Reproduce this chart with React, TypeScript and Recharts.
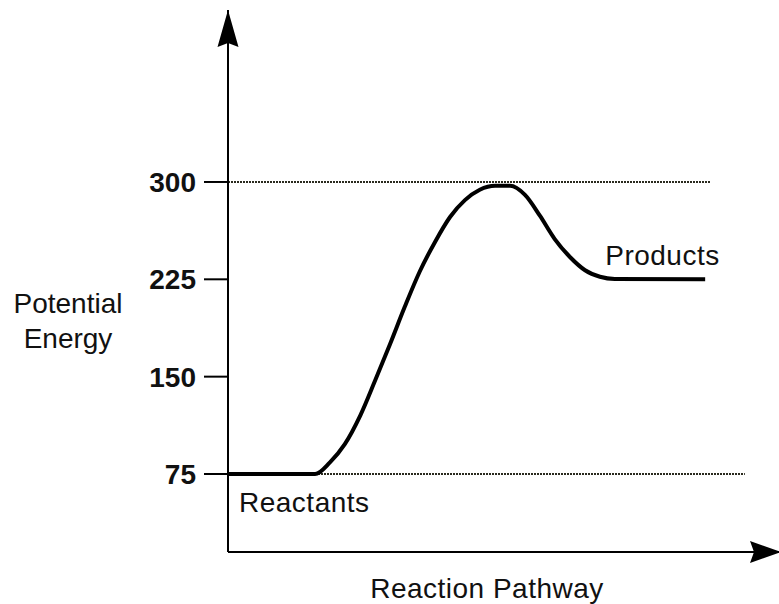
import { LineChart, Line, XAxis, YAxis, ReferenceLine, ReferenceDot } from 'recharts';

const FONT = '"Liberation Sans", Arial, sans-serif';

// position along the reaction pathway (0..100) and potential energy
const pathway = [0, 15.8, 18.5, 21.2, 24.0, 26.7, 29.4, 32.1, 34.8, 37.6, 40.3, 43.0, 45.7, 48.5, 51.2, 53.9, 56.6, 59.3, 62.1, 64.8, 67.5, 70.2, 86.6];
const energy = [75, 75, 84, 98, 120, 147, 175, 204, 231, 254, 273, 286, 294, 297, 297, 290, 274, 256, 242, 232, 227, 225.3, 225];

const energyTicks = [75, 150, 225, 300];
const energyDomain = [14.9, 432.5];
const pathwayDomain = [0, 100];

const transitionLevel = 300;
const transitionEnd = 87.5;
const reactantLevel = 75;
const reactantEnd = 93.8;
const productStart = 68.1;
const productLevel = 225;

const data = pathway.map((x, i) => ({ x, energy: energy[i] }));

const UpArrow = (props: any) => {
  const { cx, cy } = props;
  return (
    <path
      d={`M${cx},${cy} L${cx + 10.5},${cy + 37} L${cx},${cy + 33} L${cx - 10.5},${cy + 37} Z`}
      fill="#000"
    />
  );
};

const RightArrow = (props: any) => {
  const { cx, cy } = props;
  return (
    <path
      d={`M${cx + 2},${cy} L${cx - 29},${cy - 11} L${cx - 25},${cy} L${cx - 29},${cy + 11} Z`}
      fill="#000"
    />
  );
};

const EnergyLabel = (props: any) => {
  const { viewBox } = props;
  const cx = viewBox.x + 68;
  return (
    <text fontFamily={FONT} fontSize={28} fill="#111" textAnchor="middle">
      <tspan x={cx} y={313}>Potential</tspan>
      <tspan x={cx} y={348}>Energy</tspan>
    </text>
  );
};

const PathwayLabel = (props: any) => {
  const { viewBox } = props;
  return (
    <text
      x={viewBox.x + 259}
      y={viewBox.y + 46}
      fontFamily={FONT}
      fontSize={28}
      letterSpacing={0.5}
      fill="#111"
      textAnchor="middle"
    >
      Reaction Pathway
    </text>
  );
};

export default function App() {
  return (
    <div style={{ position: 'absolute', top: 0, left: 0, width: 779, height: 604, background: '#fff' }}>
      <LineChart width={779} height={604} data={data} margin={{ top: 10, right: 0, bottom: 0, left: 0 }}>
        <XAxis
          type="number"
          dataKey="x"
          domain={pathwayDomain}
          allowDataOverflow
          tick={false}
          tickLine={false}
          height={52}
          axisLine={{ stroke: '#000', strokeWidth: 2 }}
          label={<PathwayLabel />}
        />
        <YAxis
          type="number"
          domain={energyDomain}
          allowDataOverflow
          ticks={energyTicks}
          width={228}
          tickSize={24}
          tickMargin={8}
          axisLine={{ stroke: '#000', strokeWidth: 2 }}
          tickLine={{ stroke: '#000', strokeWidth: 2 }}
          tick={{ fill: '#111', fontSize: 28, fontWeight: 700, fontFamily: FONT }}
          label={<EnergyLabel />}
        />
        <ReferenceLine
          segment={[{ x: 0, y: transitionLevel }, { x: transitionEnd, y: transitionLevel }]}
          stroke="#2a2a1e"
          strokeWidth={2}
          strokeDasharray="2 1"
        />
        <ReferenceLine
          segment={[{ x: 0, y: reactantLevel }, { x: reactantEnd, y: reactantLevel }]}
          stroke="#2a2a1e"
          strokeWidth={2}
          strokeDasharray="2 1"
        />
        <Line
          type="monotone"
          dataKey="energy"
          stroke="#000"
          strokeWidth={4}
          dot={false}
          isAnimationActive={false}
        />
        <ReferenceDot
          x={0}
          y={reactantLevel}
          r={0}
          shape={() => <g />}
          label={(p: any) => (
            <text
              x={p.viewBox.x + 11}
              y={p.viewBox.y + 38}
              fontFamily={FONT}
              fontSize={28}
              letterSpacing={0.5}
              fill="#111"
            >
              Reactants
            </text>
          )}
        />
        <ReferenceDot
          x={productStart}
          y={productLevel}
          r={0}
          shape={() => <g />}
          label={(p: any) => (
            <text
              x={p.viewBox.x + 2}
              y={p.viewBox.y - 14}
              fontFamily={FONT}
              fontSize={28}
              letterSpacing={0.5}
              fill="#111"
            >
              Products
            </text>
          )}
        />
        <ReferenceDot x={0} y={energyDomain[1]} shape={<UpArrow />} />
        <ReferenceDot x={pathwayDomain[1]} y={energyDomain[0]} shape={<RightArrow />} />
      </LineChart>
    </div>
  );
}
